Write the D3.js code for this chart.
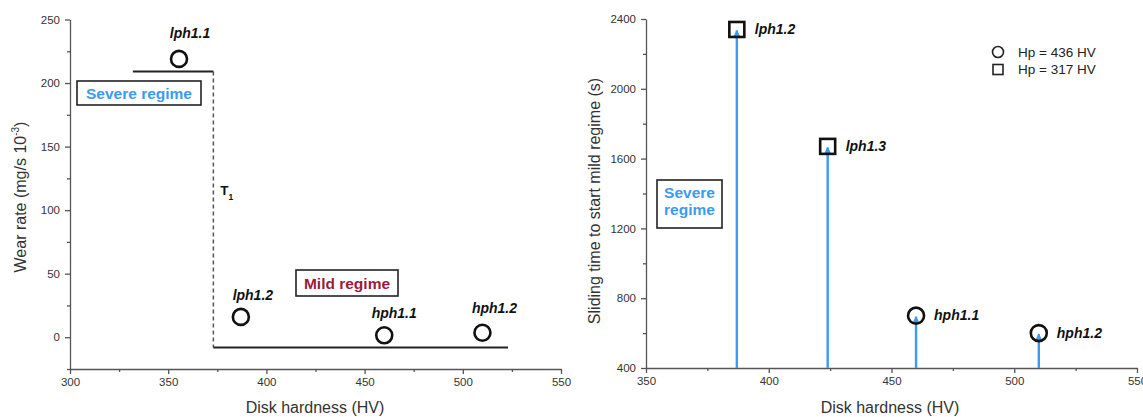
<!DOCTYPE html>
<html>
<head>
<meta charset="utf-8">
<script src="https://cdn.jsdelivr.net/npm/d3@7"></script>
<style>
  body { margin: 0; background: #fff; }
  svg { font-family: Arial, "Liberation Sans", sans-serif; }
  .axis path, .axis line { stroke: #555; stroke-width: 1.3; }
  .axis text { fill: #333; font-size: 11.5px; }
  .title { fill: #333; font-size: 16px; }
  .pt-label { font-size: 14px; font-weight: bold; font-style: italic; fill: #111; }
  .regime { font-size: 15.5px; font-weight: bold; }
</style>
</head>
<body>
<svg id="chart"></svg>
<script>
// Left panel: wear rate vs disk hardness
const wearPoints = [
    { name: 'lph1.1', hardness: 355.5, wear: 219 },
    { name: 'lph1.2', hardness: 387, wear: 16 },
    { name: 'hph1.1', hardness: 460, wear: 1.5 },
    { name: 'hph1.2', hardness: 510, wear: 3.5 }
];
const severeLevel = { from: 332, to: 373, wear: 209 };
const mildLevel = { from: 373, to: 523, wear: -8 };
const transitionHardness = 373;
const wearTicks = [0, 50, 100, 150, 200, 250];
const wearMinorTicks = [-25, 25, 75, 125, 175, 225];
const leftHardnessTicks = [300, 350, 400, 450, 500, 550];
const leftHardnessMinor = [325, 375, 425, 475, 525];

// Right panel: sliding time to start mild regime
const slidePoints = [
    { name: 'lph1.2', hardness: 387, time: 2340, hp: 317 },
    { name: 'lph1.3', hardness: 424, time: 1670, hp: 317 },
    { name: 'hph1.1', hardness: 460, time: 700, hp: 436 },
    { name: 'hph1.2', hardness: 510, time: 600, hp: 436 }
];
const timeTicks = [400, 800, 1200, 1600, 2000, 2400];
const timeMinorTicks = [600, 1000, 1400, 1800, 2200];
const rightHardnessTicks = [350, 400, 450, 500, 550];
const rightHardnessMinor = [375, 425, 475, 525];
const legendItems = [
    { hp: 436, label: 'Hp = 436 HV' },
    { hp: 317, label: 'Hp = 317 HV' }
];

const W = 1143, H = 417;
const blue = '#3b9af2';
const svg = d3.select('#chart').attr('width', W).attr('height', H);

svg.append('defs').append('marker')
    .attr('id', 'arrow')
    .attr('viewBox', '0 0 10 10')
    .attr('refX', 9).attr('refY', 5)
    .attr('markerWidth', 3.2).attr('markerHeight', 3.6)
    .attr('markerUnits', 'strokeWidth')
    .attr('orient', 'auto')
    .append('path').attr('d', 'M0,0 L10,5 L0,10 Z').attr('fill', blue);

function drawAxes(g, x, y, xt, xm, yt, ym) {
    const x0 = x.range()[0], y0 = y.range()[0];
    g.append('g').attr('class', 'axis').attr('transform', `translate(0,${y0})`)
        .call(d3.axisBottom(x).tickValues(xm).tickSize(3).tickFormat(''))
        .call(a => a.select('.domain').remove());
    g.append('g').attr('class', 'axis').attr('transform', `translate(0,${y0})`)
        .call(d3.axisBottom(x).tickValues(xt).tickSize(5).tickSizeOuter(0).tickPadding(4).tickFormat(d3.format('d')));
    g.append('g').attr('class', 'axis').attr('transform', `translate(${x0},0)`)
        .call(d3.axisLeft(y).tickValues(ym).tickSize(3).tickFormat(''))
        .call(a => a.select('.domain').remove());
    g.append('g').attr('class', 'axis').attr('transform', `translate(${x0},0)`)
        .call(d3.axisLeft(y).tickValues(yt).tickSize(5).tickSizeOuter(0).tickPadding(5).tickFormat(d3.format('d')));
}

// ---------- Left panel ----------
const left = svg.append('g');
const xL = d3.scaleLinear().domain([300, 550]).range([70, 561]);
const yL = d3.scaleLinear().domain([-25, 250]).range([369, 19.5]);
drawAxes(left, xL, yL, leftHardnessTicks, leftHardnessMinor, wearTicks, wearMinorTicks);

left.append('line')
    .attr('x1', xL(severeLevel.from)).attr('x2', xL(severeLevel.to))
    .attr('y1', yL(severeLevel.wear)).attr('y2', yL(severeLevel.wear))
    .attr('stroke', '#222').attr('stroke-width', 2);
left.append('line')
    .attr('x1', xL(transitionHardness)).attr('x2', xL(transitionHardness))
    .attr('y1', yL(severeLevel.wear)).attr('y2', yL(mildLevel.wear))
    .attr('stroke', '#555').attr('stroke-width', 1.5).attr('stroke-dasharray', '4,3');
left.append('line')
    .attr('x1', xL(mildLevel.from)).attr('x2', xL(mildLevel.to))
    .attr('y1', yL(mildLevel.wear)).attr('y2', yL(mildLevel.wear))
    .attr('stroke', '#222').attr('stroke-width', 2);

// T1 label
const t1 = left.append('text').attr('x', xL(transitionHardness) + 7).attr('y', 195)
    .attr('font-size', 13.5).attr('font-weight', 'bold').attr('fill', '#111');
t1.append('tspan').text('T');
t1.append('tspan').attr('font-size', 8.5).attr('dy', 5).text('1');

left.selectAll('circle.pt').data(wearPoints).enter().append('circle')
    .attr('class', 'pt')
    .attr('cx', d => xL(d.hardness)).attr('cy', d => yL(d.wear))
    .attr('r', 8).attr('fill', 'none').attr('stroke', '#111').attr('stroke-width', 2.6);

const leftLabelOffset = { 'lph1.1': [11, -21], 'lph1.2': [12, -17], 'hph1.1': [10, -17], 'hph1.2': [12, -20] };
left.selectAll('text.pt-label').data(wearPoints).enter().append('text')
    .attr('class', 'pt-label').attr('text-anchor', 'middle')
    .attr('x', d => xL(d.hardness) + leftLabelOffset[d.name][0])
    .attr('y', d => yL(d.wear) + leftLabelOffset[d.name][1])
    .text(d => d.name);

// regime boxes
left.append('rect').attr('x', 77).attr('y', 81).attr('width', 124).attr('height', 24)
    .attr('fill', '#fff').attr('stroke', '#222').attr('stroke-width', 1.6);
left.append('text').attr('class', 'regime').attr('x', 139).attr('y', 98.5).attr('text-anchor', 'middle')
    .attr('fill', blue).text('Severe regime');
left.append('rect').attr('x', 296).attr('y', 270).attr('width', 102).attr('height', 26)
    .attr('fill', '#fff').attr('stroke', '#222').attr('stroke-width', 1.6);
left.append('text').attr('class', 'regime').attr('x', 347).attr('y', 288.5).attr('text-anchor', 'middle')
    .attr('fill', '#9b1b3c').text('Mild regime');

left.append('text').attr('class', 'title').attr('text-anchor', 'middle')
    .attr('x', 315).attr('y', 413).text('Disk hardness (HV)');
const ylab = left.append('text').attr('class', 'title').attr('text-anchor', 'middle')
    .attr('transform', 'translate(26,197) rotate(-90)');
ylab.append('tspan').text('Wear rate (mg/s 10');
ylab.append('tspan').attr('font-size', 10).attr('dy', -7).text('-3');
ylab.append('tspan').attr('dy', 7).text(')');

// ---------- Right panel ----------
const right = svg.append('g');
const xR = d3.scaleLinear().domain([350, 550]).range([646, 1137]);
const yR = d3.scaleLinear().domain([400, 2400]).range([368, 19]);
drawAxes(right, xR, yR, rightHardnessTicks, rightHardnessMinor, timeTicks, timeMinorTicks);

right.selectAll('line.arrow').data(slidePoints).enter().append('line')
    .attr('class', 'arrow')
    .attr('x1', d => xR(d.hardness)).attr('x2', d => xR(d.hardness))
    .attr('y1', yR(400)).attr('y2', d => yR(d.time) + 1)
    .attr('stroke', blue).attr('stroke-width', 2.4)
    .attr('marker-end', 'url(#arrow)');

function drawMarker(g, hp, cx, cy) {
    if (hp === 317) {
        g.append('rect').attr('x', cx - 7.5).attr('y', cy - 7.5).attr('width', 15).attr('height', 15)
            .attr('fill', 'none').attr('stroke', '#111').attr('stroke-width', 2.6);
    } else {
        g.append('circle').attr('cx', cx).attr('cy', cy).attr('r', 8)
            .attr('fill', 'none').attr('stroke', '#111').attr('stroke-width', 2.6);
    }
}
slidePoints.forEach(d => drawMarker(right, d.hp, xR(d.hardness), yR(d.time)));

right.selectAll('text.pt-label').data(slidePoints).enter().append('text')
    .attr('class', 'pt-label')
    .attr('x', d => xR(d.hardness) + 18)
    .attr('y', d => yR(d.time) + 4.5)
    .text(d => d.name);

right.append('rect').attr('x', 657).attr('y', 180).attr('width', 65).attr('height', 48)
    .attr('fill', '#fff').attr('stroke', '#222').attr('stroke-width', 1.6);
right.append('text').attr('class', 'regime').attr('x', 689.5).attr('y', 198).attr('text-anchor', 'middle')
    .attr('fill', blue).text('Severe');
right.append('text').attr('class', 'regime').attr('x', 689.5).attr('y', 215).attr('text-anchor', 'middle')
    .attr('fill', blue).text('regime');

// legend
const legend = right.append('g').attr('transform', 'translate(998,52)');
legendItems.forEach((d, i) => {
    const row = legend.append('g').attr('transform', `translate(0,${i * 17.5})`);
    if (d.hp === 317) {
        row.append('rect').attr('x', -5).attr('y', -5).attr('width', 10).attr('height', 10)
            .attr('fill', 'none').attr('stroke', '#222').attr('stroke-width', 1.6);
    } else {
        row.append('circle').attr('r', 5.5).attr('fill', 'none').attr('stroke', '#222').attr('stroke-width', 1.6);
    }
    row.append('text').attr('x', 20).attr('y', 4.5).attr('font-size', 13.5).attr('fill', '#222').text(d.label);
});

right.append('text').attr('class', 'title').attr('text-anchor', 'middle')
    .attr('x', 890).attr('y', 413).text('Disk hardness (HV)');
right.append('text').attr('class', 'title').attr('text-anchor', 'middle')
    .attr('transform', 'translate(600,201) rotate(-90)')
    .text('Sliding time to start mild regime (s)');
</script>
</body>
</html>
